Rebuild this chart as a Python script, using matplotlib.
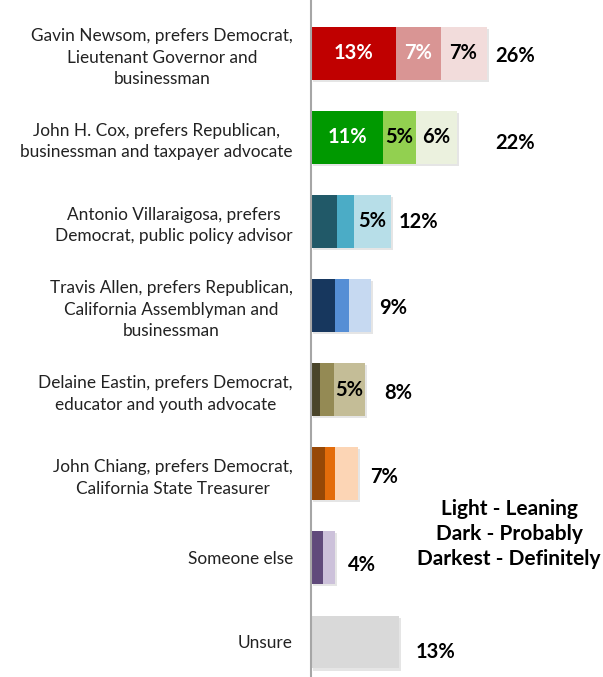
import matplotlib
matplotlib.use("Agg")
import matplotlib.pyplot as plt
import matplotlib.patheffects as pe
import numpy as np

plt.rcParams['font.family'] = ['Lato', 'DejaVu Sans']

# candidates, top to bottom
candidates = [
    "Gavin Newsom, prefers Democrat,\nLieutenant Governor and\nbusinessman",
    "John H. Cox, prefers Republican,\nbusinessman and taxpayer advocate",
    "Antonio Villaraigosa, prefers\nDemocrat, public policy advisor",
    "Travis Allen, prefers Republican,\nCalifornia Assemblyman and\nbusinessman",
    "Delaine Eastin, prefers Democrat,\neducator and youth advocate",
    "John Chiang, prefers Democrat,\nCalifornia State Treasurer",
    "Someone else",
    "Unsure",
]

# support in %, split by strength
definitely = [12.6, 10.7, 3.8, 3.6, 1.4, 2.1, 1.8, 13.0]
probably = [6.6, 4.8, 2.6, 2.1, 2.0, 1.5, 0.0, 0.0]
leaning = [6.8, 6.1, 5.4, 3.2, 4.6, 3.4, 1.7, 0.0]
totals = [26, 22, 12, 9, 8, 7, 4, 13]

# which segment values get printed inside the bar
show_def = [True, True, False, False, False, False, False, False]
show_prob = [True, True, False, False, False, False, False, False]
show_lean = [True, True, True, False, True, False, False, False]

dark_cols = ['#C00000', '#009900', '#215968', '#17375E', '#4A452A', '#974806', '#604A7B', '#D9D9D9']
mid_cols = ['#D99594', '#92D050', '#4BACC6', '#558ED5', '#948A54', '#E46C0A', '#8064A2', '#D9D9D9']
light_cols = ['#F2DCDB', '#EBF1DE', '#B7DEE8', '#C6D9F1', '#C4BD97', '#FCD5B5', '#CCC1DA', '#D9D9D9']
mid_txt = ['white', 'black', 'black', 'black', 'black', 'black', 'black', 'black']

# pixel nudges for the total labels
tot_dx = [9, 38, 8, 8, 19, 12, 13, 17]
tot_dy = [-3, -6, -1, -2, -3, -3, -7, -10]

W, H = 603, 677
fig = plt.figure(figsize=(W / 100, H / 100), dpi=100)
ax_left = 311 / W
ax = fig.add_axes([ax_left, 0, 1 - ax_left, 1])

scale = 6.75  # px per percent
ax.set_xlim(0, (W - 311) / scale)
pitch = 84.1
ax.set_ylim((H - 53.3) / pitch, -53.3 / pitch)

y = np.arange(len(candidates))
h = 0.63
shadow = [pe.SimplePatchShadow(offset=(1.5, -1.5), shadow_rgbFace='#999999', alpha=0.25), pe.Normal()]

d = np.array(definitely)
p = np.array(probably)
l = np.array(leaning)

b1 = ax.barh(y, d, height=h, color=dark_cols, linewidth=0)
b2 = ax.barh(y, p, left=d, height=h, color=mid_cols, linewidth=0)
b3 = ax.barh(y, l, left=d + p, height=h, color=light_cols, linewidth=0)
for bars in (b1, b2, b3):
    for bar in bars:
        if bar.get_width() > 0:
            bar.set_path_effects(shadow)

lbl = dict(fontsize=14.5, fontweight='bold', ha='center', va='center')
for i in range(len(candidates)):
    if show_def[i]:
        ax.text(d[i] / 2, y[i], f"{round(d[i])}%", color='white', **lbl)
    if show_prob[i]:
        ax.text(d[i] + p[i] / 2, y[i], f"{round(p[i])}%", color=mid_txt[i], **lbl)
    if show_lean[i]:
        ax.text(d[i] + p[i] + l[i] / 2, y[i], f"{round(l[i])}%", color='black', **lbl)
    end = d[i] + p[i] + l[i]
    ax.annotate(f"{totals[i]}%", (end, y[i]), xytext=(tot_dx[i], tot_dy[i]),
                textcoords='offset pixels', ha='left', va='center',
                fontsize=14.5, fontweight='bold', color='black')

ax.set_yticks(y)
ax.set_yticklabels(candidates, fontsize=12.4, color='#222222', linespacing=1.42)
for t in ax.get_yticklabels():
    t.set_multialignment('center')
ax.tick_params(axis='y', length=0, pad=13)
ax.set_xticks([])

for s in ['top', 'right', 'bottom']:
    ax.spines[s].set_visible(False)
ax.spines['left'].set_color('#A6A6A6')
ax.spines['left'].set_linewidth(1.5)

fig.text(509 / W, 1 - 534 / H, "Light - Leaning\nDark - Probably\nDarkest - Definitely",
         ha='center', va='center', fontsize=15, fontweight='bold',
         linespacing=1.3, color='black')

fig.savefig("out.png", dpi=100)
